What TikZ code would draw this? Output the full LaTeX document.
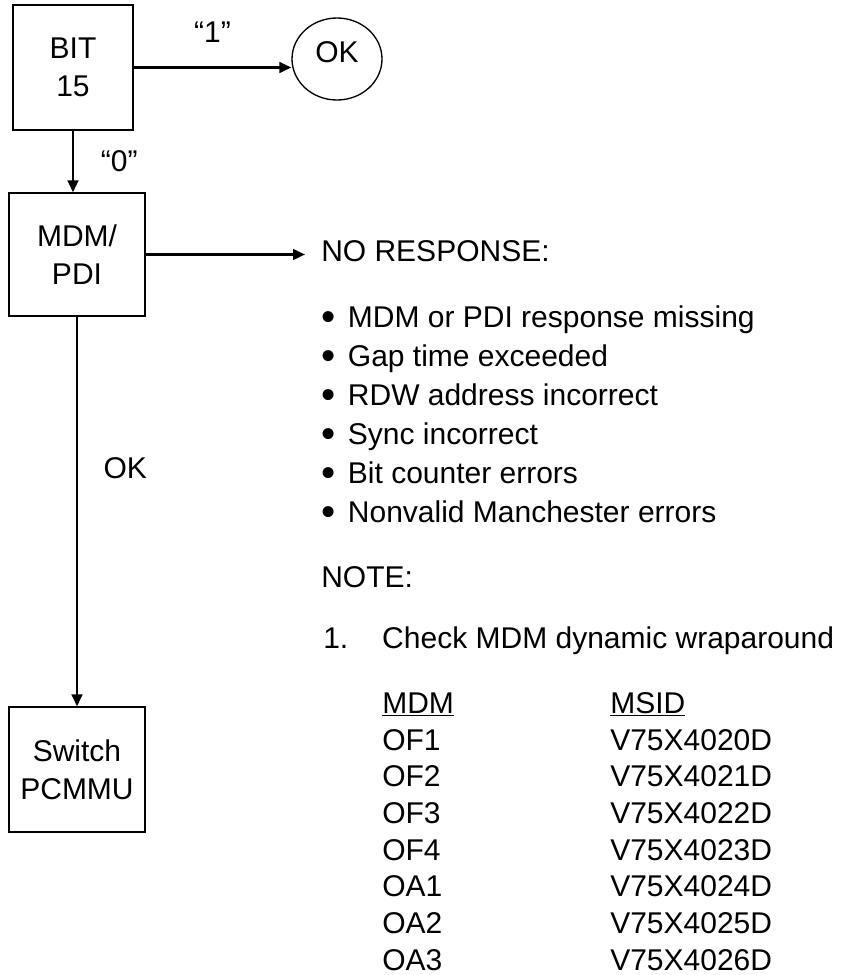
\documentclass[tikz,border=0pt]{standalone}
\usepackage{fontspec}
\setmainfont{Liberation Sans}
\usetikzlibrary{arrows.meta,positioning,shapes.geometric}
\newcommand{\chartfont}{\fontsize{22.5}{28.5}\selectfont}
\newcommand{\listdot}{\makebox[20pt][l]{\raisebox{-0.12em}{\scalebox{1.35}{\textbullet}}}}
\tikzset{
  chart box/.style={
    draw,
    line width=1pt,
    align=center,
    inner sep=0pt
  },
  chart end/.style={draw,ellipse,line width=1pt,inner sep=0pt},
  chart flow/.style={-{Triangle[length=9pt,width=8pt]},line width=1.9pt},
  chart label/.style={inner sep=0pt},
  note text/.style={anchor=base west,inner sep=0pt,align=left}
}
\begin{document}
\begin{tikzpicture}[x=0.75pt,y=-0.75pt,font=\chartfont]
  \useasboundingbox (0,0) rectangle (864,975);

  % decision chain
  \node[chart box,minimum width=90pt,minimum height=93.75pt] (bit) at (73,67.5) {BIT\\15};
  \node[chart end,minimum width=67.5pt,minimum height=61.5pt] (ok) at (337,59)
    {\raisebox{5pt}[\height][\depth]{OK}};
  \node[chart box,minimum width=102pt,minimum height=92.25pt] (mdm) at (77,254.5) {MDM/\\PDI};
  \node[chart box,minimum width=102pt,minimum height=93.75pt] (switch) at (77,769.5) {Switch\\PCMMU};

  % notes (multi-line nodes sit on the baseline of their last line)
  \node[note text,inner xsep=12pt] (noresp) at (305,261) {NO RESPONSE:};
  \node[note text,font={\fontsize{22.5}{29.25}\selectfont}] (faults) at (321,522)
    {\listdot MDM or PDI response missing\\
     \listdot Gap time exceeded\\
     \listdot RDW address incorrect\\
     \listdot Sync incorrect\\
     \listdot Bit counter errors\\
     \listdot Nonvalid Manchester errors};
  \node[note text] (note) at (321,587) {NOTE:};
  \node[note text] (check) at (323,648) {\makebox[44.25pt][l]{1.}Check MDM dynamic wraparound};
  \node[note text,font={\fontsize{22.5}{27.5}\selectfont}] (mdmcol) at (382,970)
    {\underline{MDM}\\OF1\\OF2\\OF3\\OF4\\OA1\\OA2\\OA3};
  \node[note text,font={\fontsize{22.5}{27.5}\selectfont}] (msidcol) at (610,970)
    {\underline{MSID}\\V75X4020D\\V75X4021D\\V75X4022D\\V75X4023D\\V75X4024D\\V75X4025D\\V75X4026D};

  \draw[chart flow] (bit.east) -- node[chart label,above=18pt] {“1”} (bit.east -| ok.west);
  \draw[chart flow] (bit.south) -- node[chart label,right=20pt] {“0”} (bit.south |- mdm.north);
  \draw[chart flow] (mdm.east) -- (mdm.east -| noresp.west);
  \draw[chart flow] (mdm.south) -- node[chart label,pos=0.39,right=19pt] {OK} (switch.north);
\end{tikzpicture}
\end{document}
